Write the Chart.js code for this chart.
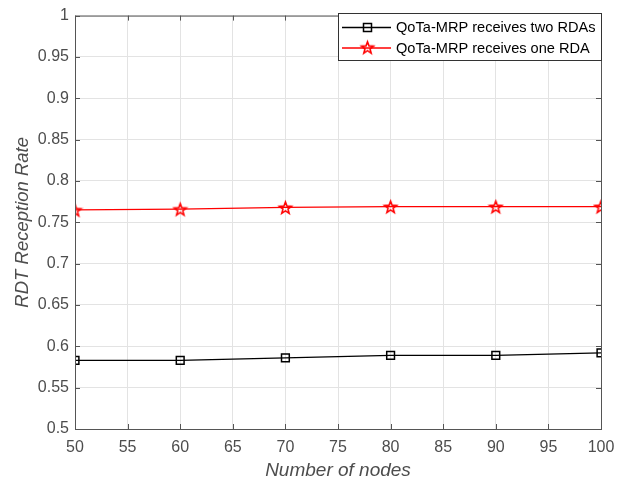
<!DOCTYPE html>
<html>
<head>
<meta charset="utf-8">
<script src="https://cdn.jsdelivr.net/npm/chart.js@4/dist/chart.umd.min.js"></script>
<style>
  html, body { margin: 0; padding: 0; background: #fff; }
  #wrap { width: 625px; height: 482px; }
</style>
</head>
<body>
<div id="wrap"><canvas id="chart" width="625" height="482"></canvas></div>
<script>
const nodes = [50, 60, 70, 80, 90, 100];
const twoRDAs = [0.583, 0.583, 0.586, 0.589, 0.589, 0.592];
const oneRDA = [0.765, 0.766, 0.768, 0.769, 0.769, 0.769];
const seriesNames = ["QoTa-MRP receives two RDAs", "QoTa-MRP receives one RDA"];
const xTicks = [50, 55, 60, 65, 70, 75, 80, 85, 90, 95, 100];
const yTicks = [0.5, 0.55, 0.6, 0.65, 0.7, 0.75, 0.8, 0.85, 0.9, 0.95, 1];

const FONT = "'Liberation Sans', Arial, sans-serif";
const axisColor = "#555555";
const textColor = "#4d4d4d";

// MATLAB-style pentagram marker
function makeStar(r, color) {
  const c = document.createElement("canvas");
  const s = Math.ceil(r * 2 + 4);
  c.width = s; c.height = s;
  const g = c.getContext("2d");
  g.translate(s / 2, s / 2 + 0.8);
  g.beginPath();
  for (let i = 0; i < 10; i++) {
    const rr = i % 2 === 0 ? r : r * 0.42;
    const a = -Math.PI / 2 + i * Math.PI / 5;
    const px = rr * Math.cos(a), py = rr * Math.sin(a);
    i === 0 ? g.moveTo(px, py) : g.lineTo(px, py);
  }
  g.closePath();
  g.strokeStyle = color;
  g.lineWidth = 1.6;
  g.stroke();
  return c;
}
const starImg = makeStar(6.3, "#ff0000");

// box, inward ticks and legend like the original figure
const frame = {
  id: "frame",
  afterDraw(chart) {
    const { ctx, chartArea: a, scales } = chart;
    ctx.save();
    ctx.strokeStyle = axisColor;
    ctx.lineWidth = 1;
    ctx.strokeRect(a.left + 0.5, a.top + 0.5, a.right - a.left, a.bottom - a.top);
    ctx.beginPath();
    xTicks.forEach(v => {
      const x = Math.round(scales.x.getPixelForValue(v)) + 0.5;
      ctx.moveTo(x, a.bottom); ctx.lineTo(x, a.bottom - 5);
      ctx.moveTo(x, a.top); ctx.lineTo(x, a.top + 5);
    });
    yTicks.forEach(v => {
      const y = Math.round(scales.y.getPixelForValue(v)) + 0.5;
      ctx.moveTo(a.left, y); ctx.lineTo(a.left + 5, y);
      ctx.moveTo(a.right, y); ctx.lineTo(a.right - 5, y);
    });
    ctx.stroke();

    // legend
    const bx = 338.5, by = 13.5, bw = 263, bh = 47;
    ctx.fillStyle = "#fff";
    ctx.fillRect(bx, by, bw, bh);
    ctx.strokeStyle = "#333";
    ctx.strokeRect(bx, by, bw, bh);
    const rows = [27.5, 48];
    chart.data.datasets.forEach((ds, i) => {
      const y = rows[i];
      ctx.strokeStyle = ds.borderColor;
      ctx.lineWidth = 1.3;
      ctx.beginPath();
      ctx.moveTo(342, y); ctx.lineTo(391, y);
      ctx.stroke();
      if (i === 0) {
        ctx.strokeStyle = "#000";
        ctx.lineWidth = 1.5;
        ctx.strokeRect(363.5, y - 4, 8, 8);
      } else {
        ctx.drawImage(starImg, 367.5 - starImg.width / 2, y - starImg.height / 2 - 0.8);
      }
      ctx.fillStyle = "#000";
      ctx.font = "14.6px " + FONT;
      ctx.textBaseline = "middle";
      ctx.textAlign = "left";
      ctx.fillText(ds.label, 396, y + 0.5);
    });
    ctx.restore();
  }
};

new Chart(document.getElementById("chart"), {
  type: "line",
  data: {
    datasets: [
      {
        label: seriesNames[0],
        data: nodes.map((n, i) => ({ x: n, y: twoRDAs[i] })),
        borderColor: "#000000",
        borderWidth: 1.3,
        pointStyle: "rect",
        pointRadius: 5.5,
        pointBorderWidth: 1.5,
        pointBorderColor: "#000000",
        pointBackgroundColor: "rgba(0,0,0,0)",
        tension: 0
      },
      {
        label: seriesNames[1],
        data: nodes.map((n, i) => ({ x: n, y: oneRDA[i] })),
        borderColor: "#ff0000",
        borderWidth: 1.3,
        pointStyle: starImg,
        pointRadius: 7,
        tension: 0
      }
    ]
  },
  options: {
    responsive: false,
    animation: false,
    layout: { padding: { top: 14, right: 24, left: 0, bottom: 0 } },
    plugins: { legend: { display: false }, tooltip: { enabled: false } },
    scales: {
      x: {
        type: "linear",
        min: 50, max: 100,
        afterBuildTicks: s => { s.ticks = xTicks.map(v => ({ value: v })); },
        afterFit: s => { s.height = 53; },
        grid: { color: "#e3e3e3", drawTicks: false },
        border: { display: false },
        ticks: { color: textColor, padding: 9, font: { family: FONT, size: 16 }, maxRotation: 0 },
        title: { display: true, text: "Number of nodes", color: textColor, padding: { top: 0, bottom: 0 },
                 font: { family: FONT, size: 19, style: "italic" } }
      },
      y: {
        min: 0.5, max: 1,
        afterBuildTicks: s => { s.ticks = yTicks.map(v => ({ value: v })); },
        afterFit: s => { s.width = 75; },
        grid: { color: "#e3e3e3", drawTicks: false },
        border: { display: false },
        ticks: { color: textColor, padding: 6, font: { family: FONT, size: 16 },
                 callback: v => String(+v.toFixed(2)) },
        title: { display: true, text: "RDT Reception Rate", color: textColor, padding: { top: 12, bottom: 2 },
                 font: { family: FONT, size: 18.5, style: "italic" } }
      }
    }
  },
  plugins: [frame]
});
</script>
</body>
</html>
